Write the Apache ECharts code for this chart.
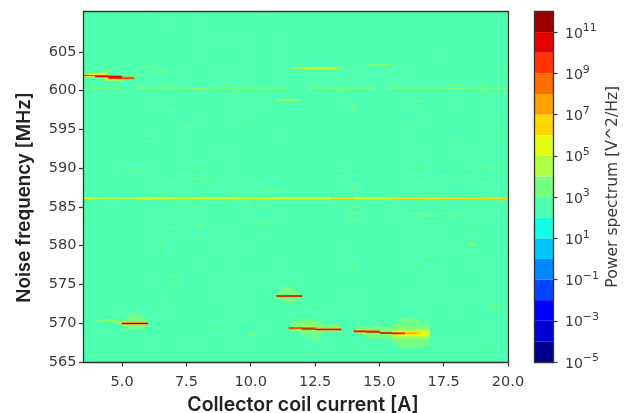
<!DOCTYPE html>
<html><head><meta charset="utf-8">
<style>html,body{margin:0;padding:0;background:#fff}#c{width:632px;height:413px;filter:blur(0.35px)}</style>
<script src="https://cdn.jsdelivr.net/npm/echarts@6/dist/echarts.min.js"></script>
</head><body><div id="c"></div>
<script>
// Colour-bar decades: log10(power) band edges and one colour per band.
const bandFloor = [-5,-4,-3,-2,-1,0,1,2,3,4,5,6,7,8,9,10,11];
const bandColors = ['#00008c','#0000d4','#0000ff','#0044ff','#0088ff','#00c8ff','#12ffe4','#4dffae','#74ff84','#b0ff46','#e3ff13','#ffd800','#ffa000','#ff6c00','#ff3400','#e60000','#9a0000'];
const tickCurrent = [5,7.5,10,12.5,15,17.5,20];
const tickFreq = [565,570,575,580,585,590,595,600,605];
const tickPower = [-5,-3,-1,1,3,5,7,9,11];

// [current start A, current end A, frequency MHz]: thin spots, by band floor
const spots3 = [
[5.90,6.09,610.0],[7.91,8.07,609.6],[10.40,10.61,609.8],[10.92,11.05,609.9],[6.90,7.08,608.95],[9.31,9.62,607.3],[7.91,8.07,607.0],[8.40,8.58,605.85],[10.92,11.08,606.2],[9.91,10.04,605.5],[7.94,8.01,604.8],[10.92,11.05,604.4],
[8.43,8.56,603.3],[9.94,10.04,603.3],[10.92,11.05,603.3],[6.32,6.77,602.6],[9.44,9.57,602.6],[10.92,11.08,602.4],[7.36,7.57,602.0],[9.94,10.04,601.4],[8.92,9.08,600.75],[6.9,7.05,600.7],
[7.88,8.07,599.4],[8.43,8.53,599.4],[10.4,10.58,599.5],[9.39,9.6,599.55],[9.39,9.62,598.3],[9.88,10.09,598.3],[6.38,6.58,598.05],[10.4,10.58,597.9],[6.79,7.1,597.3],[7.91,8.07,596.8],[9.31,9.6,596.6],[7.29,7.68,595.45],[7.39,7.57,595.0],[9.8,10.2,595.3],[10.92,11.08,595.0],
[13.4,13.6,601.4],[13.95,14.08,601.7],[17.8,18.2,600.8],[18.92,19.18,601.0],[17.45,17.58,604.65],[19.88,20,603.1],[15.9,16.15,602.7],[15.1,15.9,603.45],[14.08,14.92,603.2],[11.54,12,602.9],
[13.43,13.58,600.0],[16.4,16.55,599.65],[18.92,19.1,599.75],[19.47,19.6,599.5],[19.75,20,599.6],[17.9,18.1,598.35],[13.88,14.04,598.0],[13.88,14.1,597.45],[15.95,16.05,597.8],[18.95,19.1,597.8],
[15.83,16.2,595.65],[16.45,16.6,595.65],[19.4,19.6,596.1],[19.4,19.66,594.65],[15.9,16.1,594.15],[18.9,19.13,594.15],[17.86,18.22,593.55],[16.4,16.66,592.35],[18.9,19.13,592.35],[15.93,16.1,591.85],[17.9,18.06,591.55],[18.45,18.58,591.75],[18.95,19.1,591.15],
[16.35,16.7,590.25],[18.43,18.6,589.95],[18.87,19.18,589.95],[19.47,19.6,589.95],[15.93,16.14,589.85],[13.4,13.6,589.65],[13.42,14.35,589.05],[16.14,16.95,589.05],[17.1,17.78,589.05],[18.36,19.23,589.05],[17.86,18.2,588.65],[13.65,14.35,588.0],[16.35,16.8,588.0],[17.18,17.7,588.0],[18.82,19.28,588.0],[13.88,14.09,587.4],[17.39,17.57,587.4],[13.88,14.09,587.1],[16.87,17.18,586.85],
[18.88,19.14,585.87],[18.43,18.64,585.35],[13.73,14.27,585.1],[13.85,14.17,584.33],[13.7,14.34,584.1],[16.12,16.87,584.1],[16.74,17.26,583.95],[17.26,17.9,584.1],[17.9,18.1,583.77],
[5.83,6.15,593.48],[7.41,7.54,592.88],[8.87,9.04,592.58],[7.38,7.58,590.52],[7.87,8.06,589.96],[9.4,9.56,590.5],[5.91,6.06,589.36],[6.28,6.74,589.06],[7.1,8.11,589.06],[7.67,8.29,588.63],[8.35,8.58,588.63],[9.4,9.61,588.33],[6.8,7.16,588.03],[7.25,7.71,588.03],[8.39,8.55,588.03],[9.78,10.18,587.73],[10.4,10.56,588.03],[10.41,11.19,587.17],[7.41,7.57,587.3],[5.91,6.06,587.0],[6.43,6.58,586.87],[9.43,9.56,586.87],
[5.8,6.15,586.0],[7.51,8.06,585.1],[6.89,7.1,584.64],[6.4,6.55,584.34],[6.43,6.55,583.44],[7.41,7.57,583.26],[7.87,8.06,583.44],[7.84,8.11,582.75],[6.71,7.25,582.32],[5.91,6.06,582.4],[3.58,3.76,583.05],[10.3,10.65,585.24],[9.88,10.05,584.04],[10.88,11.14,584.34],[10.85,11.07,583.6],[10.18,10.85,583.05],[10.41,10.57,582.75],[8.87,9.09,581.55],[7.9,8.06,581.12],[6.37,6.58,580.7],[6.43,6.55,580.34],[6.37,6.58,579.66],[8.83,9.12,579.3],[9.33,9.61,579.3],[6.94,7.05,579.2],[7.38,7.57,577.7],[7.84,8.16,577.0],[9.43,9.56,577.25],[10.93,11.04,577.9],
[13.77,14.16,583.34],[13.56,14.44,583.08],[15.61,16.98,583.08],[17.0,17.76,583.08],[17.99,18.67,583.08],[18.82,19.0,583.08],[16.75,17.23,583.85],[17.89,18.1,583.77],[18.4,18.52,582.74],[15.9,16.05,582.14],[16.4,16.57,581.84],[17.4,17.55,581.7],[18.36,18.6,582.14],[12.27,12.7,580.55],[13.4,13.5,580.12],[16.8,17.09,580.38],[17.89,18.07,580.12],[18.38,18.64,580.38],[15.9,16.05,579.86],[16.44,16.52,579.5],[15.95,16.03,578.8],[18.78,19.16,578.23],[19.75,19.99,578.75],[15.9,16.08,577.46],[16.36,16.67,577.63],[13.82,14.13,577.03],[13.9,14.05,577.4],[16.44,16.52,576.64],[18.43,18.51,576.73],[19.38,19.63,576.7],[19.38,19.63,576.4],[16.93,17.06,575.87],[16.9,17.06,574.63],[17.4,17.6,574.93],[16.83,17.11,574.07],[17.81,18.15,574.07],[13.9,14.1,573.77],[15.77,16.2,573.51],[18.85,19.2,572.87],[13.4,13.6,572.78],[13.4,13.56,572.44],[13.9,14.1,572.3],[15.9,16.05,572.78],[16.4,16.57,572.48],[17.86,18.17,572.0],[19.37,19.6,571.84],[11.46,12.8,572.3],[12.37,12.6,571.54],
[5.94,6.07,576.3],[6.87,7.13,576.2],[6.87,7.13,575.95],[6.87,7.21,575.25],[7.39,7.52,574.84],[8.36,8.56,574.93],[6.87,7.06,573.86],[6.9,7.08,573.43],[8.75,9.14,573.22],[6.87,7.1,572.36],[6.32,6.61,571.94],[6.84,7.05,571.42],[6.42,6.58,570.74],[8.82,9.1,569.93],[8.36,8.62,569.29],[5.91,6.04,568.22],[7.39,7.55,567.19],[7.93,8.06,567.02],[5.91,6.04,566.59],[9.88,10.27,568.56],[9.92,10.08,573.22],[9.92,10.05,571.72],[9.92,10.08,570.86],[9.4,9.57,571.16],[9.38,9.6,566.51],[9.4,9.54,565.46],[9.36,9.6,575.36],[9.9,10.09,575.46],[10.44,10.57,575.56],
[18.8,19.17,566.77],[17.88,18.13,567.2],[12.37,12.59,566.2],[13.93,14.06,566.56],[16.97,17.05,566.35],[18.39,18.59,565.36],[17.36,17.51,568.06],[19.02,19.17,570.4],[19,19.17,568.7],[19.88,20,571.3],[19.3,19.7,572.14],
[3.89,4.99,570.34],[5.05,5.96,602.12],[11.46,13.47,568.96],
[5.86,6.14,603.1]];
const spots4 = [
[11.54,13.49,602.9],[14.6,15.4,603.3],[11.0,11.93,598.8],[16.4,16.6,598.65],[7.86,8.12,600.22],[5.08,5.89,589.8],[7.41,7.59,588.25],[9.87,10.1,585.15],[16.8,17.2,578.5],[18.4,18.75,580.08],[4.27,4.66,570.42],[4.66,4.99,570.12],[11.15,11.8,598.75]];
const tone600 = [[3.5,5.0,600.22],[5.55,11.44,600.22],[12.2,14.8,600.22],[15.3,20,600.22]];
const spots5 = [[12.0,13.4,602.9]];
const tone586 = [[3.5,3.86,586.12],[3.86,5.6,586.12],[5.6,11.35,586.12],[11.35,13.1,586.12],[13.1,14,586.12],[14,15.55,586.12],[15.55,20,586.12]];
const tone586Band = [5,4,5,5,6,5,6];
const spots6 = [[16.45,16.7,568.7]];
const spots7 = [[16.0,16.45,568.72]];

// [current start A, current end A, frequency low, frequency high]: blocks around the strong tones
const blocks3 = [
[3.69,4.47,602.1,602.4],[4.34,4.64,602.4,602.7],[4.21,5.05,601.2,601.55],
[5.37,5.7,571.05,571.25],[5.25,5.83,570.75,571.05],[5.12,5.89,570.4,570.75],[4.99,6.0,569.6,570.4],[5.05,5.89,569.35,569.6],[5.12,5.83,569.15,569.35],
[11.33,11.6,574.6,574.8],[11.2,11.72,574.2,574.6],[11.08,11.85,573.85,574.2],[11.0,12.0,573.2,573.85],[11.08,11.85,572.95,573.2],[11.27,11.72,572.65,572.95],
[11.98,12.18,570.55,570.75],[11.79,12.5,570.25,570.55],[11.6,12.8,569.9,570.25],[11.53,13.47,568.9,569.9],[11.79,12.8,568.6,568.9],[12.05,12.76,568.3,568.6],[12.3,12.7,568,568.3],
[14.38,15.29,569.55,569.75],[14.05,15.48,569.05,569.55],[14.05,15.48,568.7,569.05],[14.3,15.48,568.4,568.7],[14.5,15.4,568,568.4],
[15.87,16.13,570.5,570.75],[15.74,16.58,570.1,570.5],[15.54,16.97,569.7,570.1],[15.48,16.97,567.6,569.7],[15.54,16.97,567.2,567.6],[15.8,16.7,566.85,567.2]];
const blocks4 = [
[3.69,4.47,601.95,602.25],[4.28,5.05,601.3,601.6],[11.98,12.5,569.5,569.8],[15.48,16.97,568.06,569.3],[11.0,12.0,573.35,573.65],[5,6,569.85,570.15]];
const blocks5 = [[15.7,16.97,568.35,568.95]];
const blocks6 = [[16.06,16.6,568.5,568.9],[3.5,4.47,601.8,602.1]];
const blocks8 = [[3.95,4.99,601.68,601.98],[4.47,5.47,601.46,601.78],[4.99,6.0,569.84,570.12],[11.0,12.0,573.36,573.64],[11.48,12.52,569.22,569.52],[12.52,13.52,569.06,569.34],[14,15.02,568.82,569.08],[15.02,15.5,568.6,568.88],[15.5,16.0,568.56,568.84]];

// [current start A, current end A, frequency MHz]: core of the strong tones
const core9 = [[3.5,4.47,601.95],[4.47,5.47,601.6],[11.48,12.0,569.38]];
const core10 = [[3.95,4.99,601.82],[12.52,13.52,569.2],[14,14.5,568.95],[15.5,16.0,568.7],[4.47,5,601.66]];
const core11 = [[4.99,6.0,569.98],[11.0,12.0,573.5],[11.98,12.52,569.25],[14.5,15.02,568.87],[15.02,15.5,568.74]];

const freqMin = 565, freqMax = 610.2, curMin = 3.5, curMax = 20;
const thin = 0.14, coreThin = 0.13, toneThin = 0.17, faintThin = 0.1;
const rows = [[curMin,curMax,freqMin,freqMax,2]];
const addBlocks = (a,l)=>a.forEach(b=>rows.push([b[0],b[1],b[2],b[3],l]));
const addSpots = (a,l,h)=>a.forEach(s=>rows.push([s[0],s[1],s[2]-h/2,s[2]+h/2,l]));
addBlocks(blocks3,3); addSpots(spots3,3,thin);
addSpots(tone600,4,faintThin);
addBlocks(blocks4,4); addSpots(spots4,4,thin);
tone586.forEach((s,i)=>addSpots([s],tone586Band[i],toneThin));
addBlocks(blocks5,5); addSpots(spots5,5,thin+0.03);
addBlocks(blocks6,6); addSpots(spots6,6,thin+0.03);
addSpots(spots7,7,thin+0.03);
addBlocks(blocks8,8);
addSpots(core9,9,coreThin); addSpots(core10,10,coreThin); addSpots(core11,11,coreThin);

const fillOf = l => bandColors[l+5];
const ink = '#3a3a3a';
const tickFont = {fontFamily:'DejaVu Sans',fontSize:14.5,color:ink};
const titleFont = {fontFamily:'Inter',fontWeight:600,color:'#222'};
const frame = {show:true,onZero:false,lineStyle:{color:'#333',width:1.3}};
const tick = {show:true,length:4.5,lineStyle:{color:'#333',width:1.2}};

const heatItem = (p,api)=>{
  const a = api.coord([api.value(0),api.value(3)]);
  const b = api.coord([api.value(1),api.value(2)]);
  return {type:'rect',shape:{x:a[0],y:a[1],width:b[0]-a[0],height:b[1]-a[1]},style:{fill:fillOf(api.value(4))}};
};
const barItem = (p,api)=>{
  const a = api.coord([0,api.value(0)+1]);
  const b = api.coord([1,api.value(0)]);
  return {type:'rect',shape:{x:a[0],y:a[1],width:b[0]-a[0],height:b[1]-a[1]},style:{fill:fillOf(api.value(0))}};
};

const chart = echarts.init(document.getElementById('c'),null,{renderer:'canvas'});
chart.setOption({
  animation:false,
  backgroundColor:'#fff',
  grid:[
    {left:83.5,top:11.5,width:424.5,height:350.5,outerBoundsMode:'none'},
    {left:534.5,top:11.5,width:18.5,height:350.5,outerBoundsMode:'none'}
  ],
  xAxis:[
    {gridIndex:0,type:'value',min:curMin,max:curMax,z:5,axisLine:frame,splitLine:{show:false},
     axisTick:Object.assign({},tick,{customValues:tickCurrent}),
     axisLabel:Object.assign({},tickFont,{margin:13,customValues:tickCurrent,formatter:v=>v.toFixed(1)}),
     name:'Collector coil current [A]',nameLocation:'middle',nameGap:32,
     nameTextStyle:Object.assign({},titleFont,{fontSize:19.5,padding:[0,0,0,14.5]})},
    {gridIndex:0,type:'value',position:'top',min:curMin,max:curMax,z:5,axisLine:frame,axisTick:{show:false},axisLabel:{show:false},splitLine:{show:false}},
    {gridIndex:1,type:'value',min:0,max:1,z:5,axisLine:frame,axisTick:{show:false},axisLabel:{show:false},splitLine:{show:false}},
    {gridIndex:1,type:'value',position:'top',min:0,max:1,z:5,axisLine:frame,axisTick:{show:false},axisLabel:{show:false},splitLine:{show:false}}
  ],
  yAxis:[
    {gridIndex:0,type:'value',min:freqMin,max:freqMax,z:5,axisLine:frame,splitLine:{show:false},
     axisTick:Object.assign({},tick,{customValues:tickFreq}),
     axisLabel:Object.assign({},tickFont,{margin:7,customValues:tickFreq}),
     name:'Noise frequency [MHz]',nameLocation:'middle',nameGap:50,nameRotate:90,
     nameTextStyle:Object.assign({},titleFont,{fontSize:18.8,padding:[0,21.5,0,0]})},
    {gridIndex:0,type:'value',position:'right',min:freqMin,max:freqMax,z:5,axisLine:frame,axisTick:{show:false},axisLabel:{show:false},splitLine:{show:false}},
    {gridIndex:1,type:'value',min:-5,max:12,position:'right',z:5,axisLine:frame,splitLine:{show:false},
     axisTick:Object.assign({},tick,{customValues:tickPower}),
     axisLabel:{margin:12,color:ink,customValues:tickPower,
       formatter:v=>'{b|10}{s|'+String(v).replace('-','\u2212')+'}',
       rich:{b:{fontFamily:'DejaVu Sans',fontSize:14,color:ink,padding:[4,0,0,0]},s:{fontFamily:'DejaVu Sans',fontSize:11,color:ink,verticalAlign:'top',padding:[0,0,3,0]}}},
     name:'Power spectrum [V^2/Hz]',nameLocation:'middle',nameGap:52,nameRotate:90,
     nameTextStyle:{fontFamily:'DejaVu Sans',fontSize:15.6,color:ink}},
    {gridIndex:1,type:'value',position:'left',min:-5,max:12,z:5,axisLine:frame,axisTick:{show:false},axisLabel:{show:false},splitLine:{show:false}}
  ],
  series:[
    {type:'custom',xAxisIndex:0,yAxisIndex:0,coordinateSystem:'cartesian2d',silent:true,clip:true,
     encode:{x:[0,1],y:[2,3]},renderItem:heatItem,data:rows,progressive:0},
    {type:'custom',xAxisIndex:2,yAxisIndex:2,coordinateSystem:'cartesian2d',silent:true,
     encode:{y:0},renderItem:barItem,data:bandFloor.map(v=>[v]),progressive:0}
  ]
});
</script></body></html>
